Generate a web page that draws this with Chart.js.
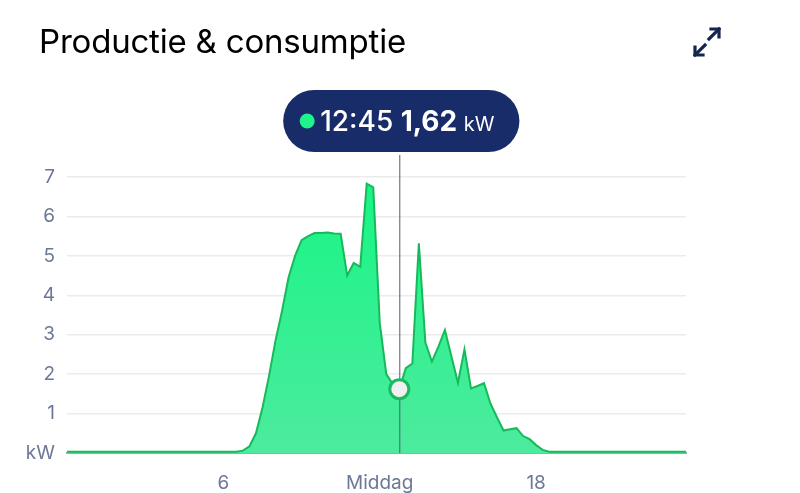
<!DOCTYPE html>
<html>
<head>
<meta charset="utf-8">
<script src="https://cdn.jsdelivr.net/npm/chart.js@4/dist/chart.umd.min.js"></script>
<style>
  html, body { margin: 0; padding: 0; background: #fff; }
  #wrap { position: relative; width: 800px; height: 493px; }
  #title {
    position: absolute; left: 39px; top: 21px;
    font: 400 33px "Inter", "Roboto", sans-serif; color: #000;
    letter-spacing: -0.2px;
  }
  #expand { position: absolute; left: 690px; top: 26px; }
  canvas { position: absolute; left: 0; top: 0; }
</style>
</head>
<body>
<div id="wrap">
  <canvas id="myChart" width="800" height="493"></canvas>
  <div id="title">Productie &amp; consumptie</div>
  <svg id="expand" width="34" height="32" viewBox="0 0 34 32">
    <g stroke="#14264f" stroke-width="3.2" fill="none" stroke-linecap="square">
      <path d="M19 13 L29 3"/>
      <path d="M21 3 L29 3 L29 11"/>
      <path d="M15 19 L5 29"/>
      <path d="M5 21 L5 29 L13 29"/>
    </g>
  </svg>
</div>
<script>
// kwartierwaarden 00:00 .. 23:45
const times = [];
for (let h = 0; h < 24; h++) {
  for (let m = 0; m < 60; m += 15) {
    times.push(String(h).padStart(2, '0') + ':' + String(m).padStart(2, '0'));
  }
}

const power = [
  0.03, 0.03, 0.03, 0.03, 0.03, 0.03, 0.03, 0.03, 0.03, 0.03, 0.03, 0.03,
  0.03, 0.03, 0.03, 0.03, 0.03, 0.03, 0.03, 0.03, 0.03, 0.03, 0.03, 0.03,
  0.03, 0.03, 0.03, 0.06, 0.17, 0.5, 1.15, 1.95, 2.85, 3.6, 4.45, 5.0,
  5.4, 5.5, 5.58, 5.58, 5.59, 5.57, 5.56, 4.5, 4.82, 4.72, 6.83, 6.74,
  3.3, 2.0, 1.75, 1.62, 2.15, 2.27, 5.32, 2.8, 2.32, 2.7, 3.12, 2.45,
  1.78, 2.63, 1.64, 1.7, 1.77, 1.25, 0.9, 0.57, 0.6, 0.63, 0.43, 0.35,
  0.2, 0.08, 0.03, 0.03, 0.03, 0.03, 0.03, 0.03, 0.03, 0.03, 0.03, 0.03,
  0.03, 0.03, 0.03, 0.03, 0.03, 0.03, 0.03, 0.03, 0.03, 0.03, 0.03, 0.03
];

const xTickLabels = { '06:00': '6', '12:00': 'Middag', '18:00': '18' };
const yTicks = [0, 1, 2, 3, 4, 5, 6, 7];
const hoverIndex = 51;

const tickColor = '#6b7896';
const tickFont = { family: 'Inter, Roboto, sans-serif', size: 19 };

const hoverPlugin = {
  id: 'hoverTip',
  afterDatasetsDraw(chart) {
    const ctx = chart.ctx;
    const xs = chart.scales.x, ys = chart.scales.y;
    const px = xs.getPixelForValue(hoverIndex);
    const py = ys.getPixelForValue(power[hoverIndex]);

    ctx.save();
    // verticale lijn
    ctx.strokeStyle = '#555a66';
    ctx.lineWidth = 1;
    ctx.beginPath();
    ctx.moveTo(px + 0.5, 155);
    ctx.lineTo(px + 0.5, chart.chartArea.bottom);
    ctx.stroke();

    // punt
    ctx.beginPath();
    ctx.arc(px, py, 9.5, 0, Math.PI * 2);
    ctx.fillStyle = '#f0f0f0';
    ctx.fill();
    ctx.lineWidth = 3;
    ctx.strokeStyle = '#1bb95f';
    ctx.stroke();

    // tooltip pil
    const t1 = times[hoverIndex] + ' ';
    const t2 = power[hoverIndex].toFixed(2).replace('.', ',') + ' ';
    const t3 = 'kW';
    const f1 = '500 28px Inter, Roboto, sans-serif';
    const f2 = '700 28px Inter, Roboto, sans-serif';
    const f3 = '400 20px Inter, Roboto, sans-serif';
    ctx.font = f1; const w1 = ctx.measureText(t1).width;
    ctx.font = f2; const w2 = ctx.measureText(t2).width;
    ctx.font = f3; const w3 = ctx.measureText(t3).width;
    const dotW = 20;
    const contentW = dotW + w1 + w2 + w3;
    const boxW = contentW + 42;
    const boxH = 62, boxTop = 90;
    const boxL = px + 2 - boxW / 2;
    ctx.fillStyle = '#182c69';
    ctx.beginPath();
    ctx.roundRect(boxL, boxTop, boxW, boxH, 31);
    ctx.fill();

    let cx = boxL + 17;
    const base = boxTop + 41;
    ctx.fillStyle = '#1ff28a';
    ctx.beginPath();
    ctx.arc(cx + 7, boxTop + 31, 7.5, 0, Math.PI * 2);
    ctx.fill();
    cx += dotW;
    ctx.fillStyle = '#ffffff';
    ctx.textBaseline = 'alphabetic';
    ctx.font = f1; ctx.fillText(t1, cx, base); cx += w1;
    ctx.font = f2; ctx.fillText(t2, cx, base); cx += w2;
    ctx.font = f3; ctx.fillText(t3, cx, base);
    ctx.restore();
  }
};

const ctx = document.getElementById('myChart').getContext('2d');
const grad = ctx.createLinearGradient(0, 177, 0, 453);
grad.addColorStop(0, '#17f585');
grad.addColorStop(1, '#4deb9e');

new Chart(ctx, {
  type: 'line',
  data: {
    labels: times,
    datasets: [{
      data: power,
      borderColor: '#17b95b',
      borderWidth: 2,
      backgroundColor: grad,
      fill: 'origin',
      pointRadius: 0,
      tension: 0
    }]
  },
  options: {
    responsive: false,
    animation: false,
    events: [],
    layout: { padding: { top: 177, right: 114, bottom: 0, left: 0 } },
    plugins: { legend: { display: false }, tooltip: { enabled: false } },
    scales: {
      x: {
        afterFit(scale) { scale.height = 40; },
        grid: { display: false, drawTicks: false },
        border: { display: true, color: '#9ba7bf', width: 2 },
        ticks: {
          autoSkip: false,
          maxRotation: 0,
          padding: 19,
          color: tickColor,
          font: tickFont,
          callback(value) { return xTickLabels[times[value]] || null; }
        }
      },
      y: {
        min: 0,
        max: 7,
        afterFit(scale) { scale.width = 67; },
        afterBuildTicks(scale) { scale.ticks = yTicks.map(v => ({ value: v })); },
        grid: {
          drawTicks: false,
          lineWidth: 1.5,
          color: c => c.tick && c.tick.value === 0 ? 'rgba(0,0,0,0)' : '#ebebeb'
        },
        border: { display: false },
        ticks: {
          padding: 12,
          color: tickColor,
          font: tickFont,
          callback(value) { return value === 0 ? 'kW' : value; }
        }
      }
    }
  },
  plugins: [hoverPlugin]
});
</script>
</body>
</html>
